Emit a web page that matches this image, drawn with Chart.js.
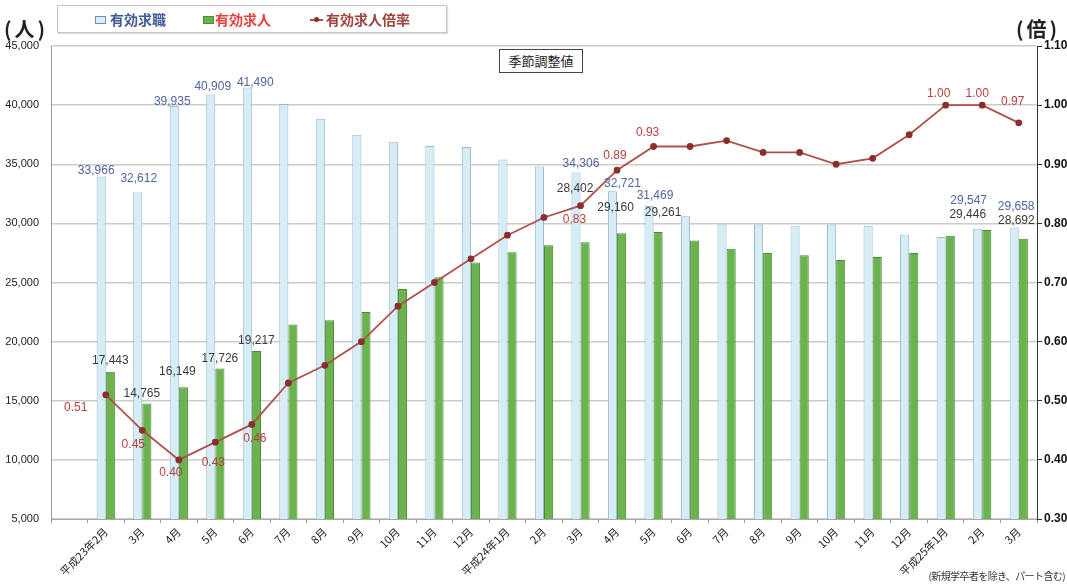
<!DOCTYPE html>
<html lang="ja">
<head>
<meta charset="utf-8">
<title>有効求人倍率の推移</title>
<script src="https://cdn.jsdelivr.net/npm/chart.js@4.4.1/dist/chart.umd.min.js"></script>
<style>
  html, body { margin: 0; padding: 0; background: #fff; }
  #wrap { position: relative; width: 1067px; height: 586px; font-family: "Noto Sans CJK JP", sans-serif; }
  #wrap canvas { position: absolute; left: 0; top: 0; }
  .unit { position: absolute; top: 14px; font-size: 20px; font-weight: bold; color: #222; letter-spacing: 3px; }
  #legend { position: absolute; left: 57px; top: 5px; width: 388px; height: 26px; border: 1px solid #c4c4c4;
            box-shadow: 1px 1px 1px #ddd; background: #fff; font-size: 14px; font-weight: bold; }
  #legend span { position: absolute; top: 4px; line-height: 18px; }
  #legend i { position: absolute; display: block; }
  #note-box { position: absolute; left: 499px; top: 49px; width: 82px; height: 22px; border: 1px solid #444;
              background: #fff; font-size: 13px; line-height: 22px; text-align: center; color: #222; }
  #foot { position: absolute; right: 2px; top: 568px; font-size: 10px; letter-spacing: -0.6px; color: #333; white-space: nowrap; }
</style>
</head>
<body>
<div id="wrap">
  <canvas id="jobChart" width="1067" height="586"></canvas>
  <div class="unit" style="left:4px;">(人)</div>
  <div class="unit" style="left:1016px;">(倍)</div>
  <div id="legend">
    <i style="left:37px; top:10px; width:9px; height:6px; background:#d8eef6; border:1px solid #6d8fb8;"></i>
    <span style="left:52px; color:#3f5a96;">有効求職</span>
    <i style="left:145px; top:10px; width:9px; height:6px; background:#6bb34e; border:1px solid #4d8c33;"></i>
    <span style="left:157px; color:#e8413c;">有効求人</span>
    <i style="left:252px; top:13px; width:13px; height:2px; background:#b0504a;"></i>
    <i style="left:256px; top:11px; width:5px; height:5px; border-radius:50%; background:#8b2e2e;"></i>
    <span style="left:268px; color:#a0433d;">有効求人倍率</span>
  </div>
  <div id="note-box">季節調整値</div>
  <div id="foot">(新規学卒者を除き、パート含む)</div>
</div>
<script>
const months = ['平成23年2月', '3月', '4月', '5月', '6月', '7月', '8月', '9月', '10月', '11月', '12月',
  '平成24年1月', '2月', '3月', '4月', '5月', '6月', '7月', '8月', '9月', '10月', '11月', '12月',
  '平成25年1月', '2月', '3月'];

// 有効求職者数（人）
const jobSeekers = [33966, 32612, 39935, 40909, 41490, 40100, 38850, 37500, 36900, 36550, 36450,
  35400, 34800, 34306, 32721, 31469, 30600, 29900, 29900, 29750, 29900, 29800, 29050,
  28850, 29547, 29658];

// 有効求人数（人）
const jobOffers = [17443, 14765, 16149, 17726, 19217, 21450, 21800, 22500, 24450, 25450, 26700,
  27550, 28150, 28402, 29160, 29261, 28550, 27850, 27500, 27300, 26900, 27150, 27500,
  28950, 29446, 28692];

// 有効求人倍率（倍）
const offerRatio = [0.51, 0.45, 0.40, 0.43, 0.46, 0.53, 0.56, 0.60, 0.66, 0.70, 0.74,
  0.78, 0.81, 0.83, 0.89, 0.93, 0.93, 0.94, 0.92, 0.92, 0.90, 0.91, 0.95,
  1.00, 1.00, 0.97];

const peopleTicks = [5000, 45000, 5000];   // min, max, step
const ratioTicks = [0.3, 1.1, 0.1];

// months that carry a printed value
const seekerTagged = [0, 1, 2, 3, 4, 13, 14, 15, 24, 25];
const offerTagged = [0, 1, 2, 3, 4, 13, 14, 15, 24, 25];
const ratioTagged = [0, 1, 2, 3, 4, 13, 14, 15, 23, 24, 25];

// text nudges [dx, dy] from the mark, same order as the tagged lists
const seekerShift = [[-5, -6], [1, -14], [-2, -4], [2, -8], [8, -5], [5, -9], [10, -8], [6, -10], [-9, -28], [2, -21]];
const offerShift = [[0, -11], [-5, -10], [-6, -15], [0, -10], [0, -10], [-10, -54], [-6, -26], [5, -19], [-19, -15], [-7, -18]];
const ratioShift = [[-30, 13], [-9, 14], [-8, 13], [-2, 21], [3, 14], [-6, 14], [-2, -14], [-6, -14], [-7, -11], [-5, -11], [-6, -21]];

const fmtPeople = v => v.toLocaleString('en-US');
const fmtRatio = v => v.toFixed(2);

// leading blank slot keeps the first month off the left axis
const axisLabels = [''].concat(months);
const pad = arr => [null].concat(arr);

const tagSets = [
  { dataset: 1, values: jobSeekers, items: seekerTagged, shift: seekerShift, color: '#5166a0', format: fmtPeople },
  { dataset: 2, values: jobOffers, items: offerTagged, shift: offerShift, color: '#3a3a3a', format: fmtPeople },
  { dataset: 0, values: offerRatio, items: ratioTagged, shift: ratioShift, color: '#b8403c', format: fmtRatio }
];

const valueTags = {
  id: 'valueTags',
  afterDatasetsDraw(chart) {
    const ctx = chart.ctx;
    ctx.save();
    ctx.font = '12px "Liberation Sans", Arial, sans-serif';
    ctx.textAlign = 'center';
    ctx.textBaseline = 'middle';
    tagSets.forEach(set => {
      const meta = chart.getDatasetMeta(set.dataset);
      ctx.fillStyle = set.color;
      set.items.forEach((k, n) => {
        const el = meta.data[k + 1];
        const [dx, dy] = set.shift[n];
        ctx.fillText(set.format(set.values[k]), el.x + dx, el.y + dy);
      });
    });
    ctx.restore();
  }
};

new Chart(document.getElementById('jobChart'), {
  data: {
    labels: axisLabels,
    datasets: [
      {
        type: 'line',
        label: '有効求人倍率',
        data: pad(offerRatio),
        yAxisID: 'yRatio',
        borderColor: '#b0504a',
        borderWidth: 1.8,
        pointRadius: 2.5,
        pointBackgroundColor: '#8b2e2e',
        pointBorderColor: '#8b2e2e',
        tension: 0,
        order: 0
      },
      {
        type: 'bar',
        label: '有効求職',
        data: pad(jobSeekers),
        yAxisID: 'y',
        backgroundColor: '#d6edf5',
        borderColor: '#9bb8d2',
        borderWidth: 1,
        categoryPercentage: 0.5,
        barPercentage: 1.0,
        order: 1
      },
      {
        type: 'bar',
        label: '有効求人',
        data: pad(jobOffers),
        yAxisID: 'y',
        backgroundColor: '#6bb34e',
        borderColor: '#4d8c33',
        borderWidth: 1,
        categoryPercentage: 0.5,
        barPercentage: 1.0,
        order: 1
      }
    ]
  },
  options: {
    responsive: false,
    animation: false,
    layout: { padding: { top: 46, left: 0, right: 0, bottom: 0 } },
    plugins: {
      legend: { display: false },
      tooltip: { enabled: false }
    },
    scales: {
      x: {
        offset: true,
        grid: { display: true, drawOnChartArea: false, offset: true, tickLength: 4, color: '#999' },
        border: { color: '#aaa' },
        ticks: {
          autoSkip: false, maxRotation: 45, minRotation: 45, padding: 2,
          color: '#222', font: { size: 11, family: '"Noto Sans CJK JP", sans-serif' }
        },
        afterFit: s => { s.height = 67; }
      },
      y: {
        position: 'left',
        min: peopleTicks[0], max: peopleTicks[1],
        grid: { color: '#cccccc', lineWidth: 1.5, drawTicks: false },
        border: { color: '#999' },
        ticks: {
          stepSize: peopleTicks[2], padding: 12, color: '#222',
          font: { size: 11, family: '"Liberation Sans", Arial, sans-serif' },
          callback: v => fmtPeople(v)
        },
        afterFit: s => { s.width = 51; }
      },
      yRatio: {
        position: 'right',
        min: ratioTicks[0], max: ratioTicks[1],
        grid: { drawOnChartArea: false, tickLength: 5, color: '#333' },
        border: { color: '#333' },
        ticks: {
          stepSize: ratioTicks[2], padding: 2, color: '#111',
          font: { size: 12, weight: 'bold', family: '"Liberation Sans", Arial, sans-serif' },
          callback: v => fmtRatio(v)
        },
        afterFit: s => { s.width = 30; }
      }
    }
  },
  plugins: [valueTags]
});
</script>
</body>
</html>
